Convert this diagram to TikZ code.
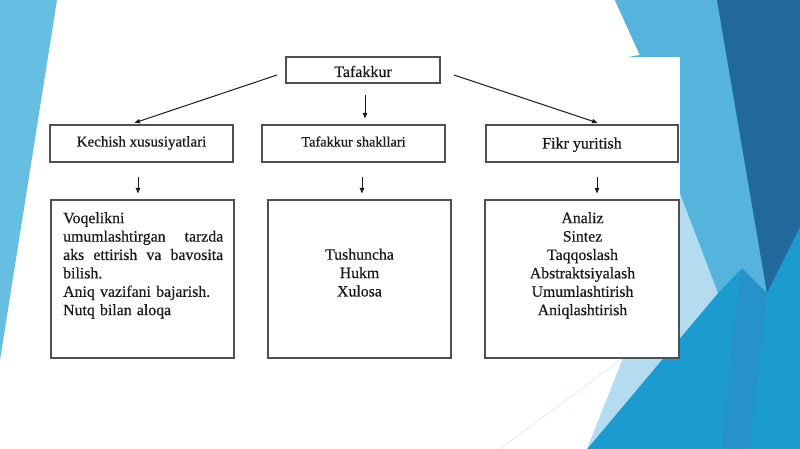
\documentclass[tikz,border=0pt]{standalone}
\usepackage{fontspec}
\setmainfont{Liberation Serif}[FakeBold=0.5]
\usetikzlibrary{arrows.meta}
\definecolor{leftblue}{HTML}{66BFE3}
\definecolor{lightblue}{HTML}{55B3DC}
\definecolor{navy}{HTML}{21699C}
\definecolor{brightblue}{HTML}{1C9BD1}
\definecolor{midblue}{HTML}{2592CB}
\definecolor{paleblue}{HTML}{B3DCF0}
\definecolor{boxline}{HTML}{505050}
\definecolor{ink}{HTML}{1A1A1A}
\tikzset{
  hbox/.style={draw=boxline, line width=1.1pt, fill=white, inner sep=0pt, text=ink},
  bigbox/.style={draw=boxline, line width=1.1pt, fill=white, inner sep=0pt},
  bodytext/.style={inner sep=0pt, text=ink, font=\fontsize{15.8}{18.4}\selectfont},
  arr/.style={draw=ink, line width=1pt, -{Latex[length=6pt,width=5pt]}}
}
\begin{document}
\begin{tikzpicture}[x=1pt,y=-1pt]
\useasboundingbox (0,0) rectangle (800,449);
% background
\fill[white] (0,0) rectangle (800,449);
\fill[leftblue] (0,0) -- (57,0) -- (0,360) -- cycle;
\fill[brightblue] (615,0) -- (800,0) -- (800,449) -- (587,449) -- (640,380) -- (640,55) -- cycle;
\fill[midblue] (742,268) -- (767,293) -- (750,449) -- (722,449) -- (733,330) -- cycle;
\fill[lightblue] (615,0) -- (717,0) -- (767,293) -- (742,268) -- (718,293) -- (628,57) -- (640,55) -- cycle;
\fill[navy] (717,0) -- (800,0) -- (800,227) -- (767,293) -- cycle;
\fill[paleblue] (628,57) -- (718,293) -- (587,449) -- (623,358) -- (650,300) -- cycle;
\draw[paleblue!60, line width=0.6pt] (623,358) -- (500,449);
% content panel
\fill[white] (50,57) rectangle (680,358);
% boxes
\node[hbox, minimum width=154pt, minimum height=26pt, text height=14pt, text depth=0pt, font=\fontsize{16}{19}\selectfont] (top) at (363,70) {Tafakkur};
\node[hbox, minimum width=183pt, minimum height=37pt, text height=11pt, text depth=5pt, font=\fontsize{15}{18}\selectfont] (kech) at (141.5,143.5) {Kechish xususiyatlari};
\node[hbox, minimum width=183pt, minimum height=37pt, text height=11pt, text depth=5pt, font=\fontsize{14.3}{17}\selectfont] (shak) at (353.5,143.5) {Tafakkur shakllari};
\node[hbox, minimum width=192pt, minimum height=37pt, text height=13pt, text depth=3pt, font=\fontsize{16}{19}\selectfont] (fikr) at (582,143.5) {Fikr yuritish};
\node[bigbox, minimum width=183pt, minimum height=158pt] (b1) at (142.5,279) {};
\node[bigbox, minimum width=183pt, minimum height=158pt] (b2) at (359.5,279) {};
\node[bigbox, minimum width=194pt, minimum height=158pt] (b3) at (582,279) {};
% texts
\node[bodytext, anchor=north west, text width=160pt, align=left] (t1) at (63,212)
  {Voqelikni\\
   umumlashtirgan\hfill tarzda\\
   aks\hfill ettirish\hfill va\hfill bavosita\\
   bilish.\\
   Aniq vazifani bajarish.\\
   Nutq bilan aloqa};
\node[bodytext, anchor=north, align=center] (t2) at (359.5,248.5)
  {Tushuncha\\Hukm\\Xulosa};
\node[bodytext, anchor=north, align=center] (t3) at (582.5,212)
  {Analiz\\Sintez\\Taqqoslash\\Abstraktsiyalash\\Umumlashtirish\\Aniqlashtirish};
% arrow ends
\coordinate (a1s) at (277,75);  \coordinate (a1e) at (134,123);
\coordinate (a2s) at (454,75);  \coordinate (a2e) at (598,123);
\coordinate (a3s) at (365,95);  \coordinate (a3e) at (365,119);
\coordinate (a4s) at (138,177); \coordinate (a4e) at (138,194);
\coordinate (a5s) at (362,177); \coordinate (a5e) at (362,194);
\coordinate (a6s) at (597,177); \coordinate (a6e) at (597,194);
\draw[arr] (a1s) -- (a1e);
\draw[arr] (a2s) -- (a2e);
\draw[arr] (a3s) -- (a3e);
\draw[arr] (a4s) -- (a4e);
\draw[arr] (a5s) -- (a5e);
\draw[arr] (a6s) -- (a6e);
\end{tikzpicture}
\end{document}
